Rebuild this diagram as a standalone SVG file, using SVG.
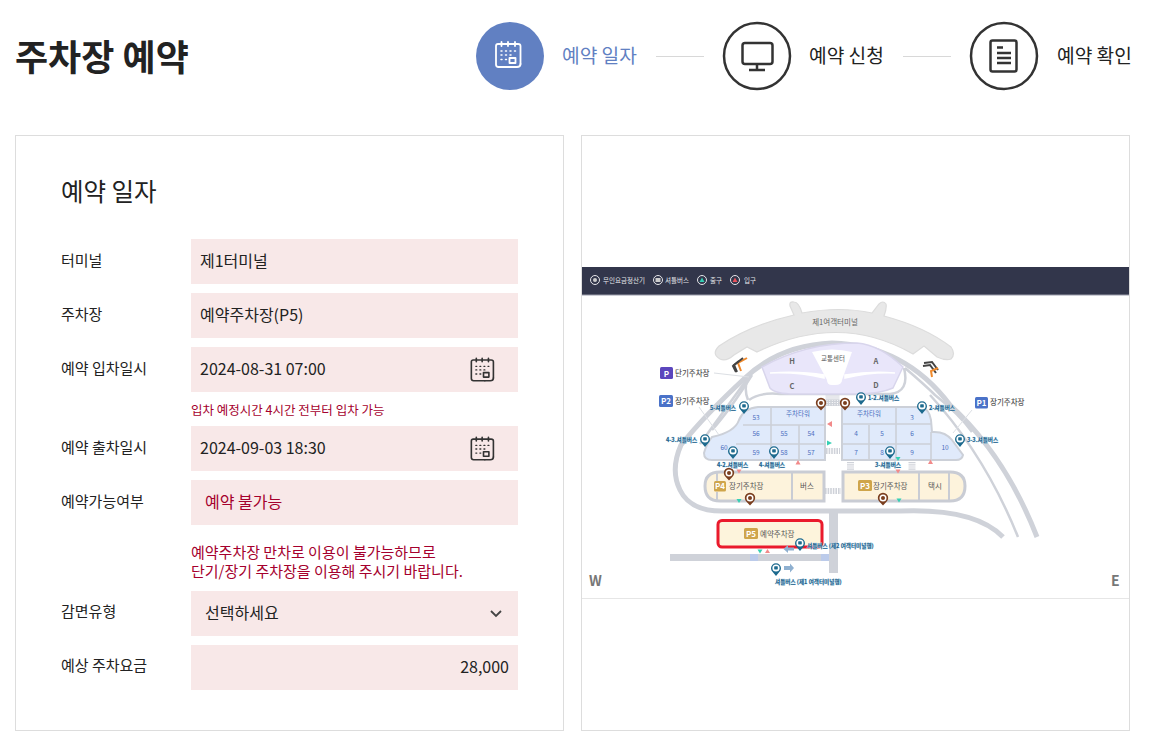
<svg xmlns="http://www.w3.org/2000/svg" width="1163" height="755" viewBox="0 0 1163 755">
<style>
text{font-family:"Noto Sans CJK KR","Noto Sans",sans-serif;fill:#222}
.lab{font-size:15px}
.val{font-size:16px}
.step{font-size:19.2px}
.field{fill:#f8e8e8}
.panel{fill:#fff;stroke:#ddd;stroke-width:1}
.warn{fill:#a5002d}
.road{fill:none;stroke:#cfd2d9;stroke-linecap:butt}
.lot{fill:#e0eafb;stroke:#ccd0d8;stroke-width:2}
.grid{stroke:#ccd0d8;stroke-width:1.6;fill:none}
.bay{fill:#fdf3dc;stroke:#c9ccd4;stroke-width:3}
.num{font-size:6.5px;fill:#4a6fc0;text-anchor:middle}
.gr{font-size:7.5px;fill:#555}
.tag{font-size:8px;font-weight:700;fill:#fff;text-anchor:middle}
.sh{font-size:5.6px;fill:#1a5f8a;stroke:#bcd9ea;stroke-width:.6px;paint-order:stroke;font-weight:700}
.leg{font-size:6.5px;fill:#e6e6ea}
.red{fill:#f28a8a}.teal{fill:#35d0b4}
.hatch{fill:none;stroke:#cfd2d9;stroke-dasharray:1.6 1}
.lead{stroke:#dcdfe4;stroke-width:1;fill:none}
</style>
<defs>
<g id="cal" fill="none" stroke-linecap="round" stroke-linejoin="round">
<path d="M16 26H3.5Q1 26 1 23.5V5Q1 3 3 3H23Q25.500 3 25.500 5V23" stroke-width="1.800"/>
<path d="M25.500 23Q25.500 26 22 26H16M6.500 1V5M13 1V5M20 1V5" stroke-width="1.800"/>
<path d="M6 10h1M10.500 10h1M15 10h1M19.500 10h1M6 14h1M10.500 14h1M6 18.500h1M10.500 18.500h1M15 14h1" stroke-width="1.500"/>
<rect x="14.500" y="17" width="6" height="5" stroke-width="1.800"/>
</g>
<g id="pinB"><path d="M0 5.500L-3.500 1.800A5.200 5.200 0 1 1 3.500 1.800Z" fill="#7a3e1e"/><circle cy="-2" r="3.500" fill="#fff"/><circle cy="-2" r="2" fill="#7a3e1e"/></g>
<g id="pinT"><path d="M0 6L-3.500 1.800A5 5 0 1 1 3.500 1.800Z" fill="#1d6a8e"/><circle cy="-2" r="3.600" fill="#fff"/><rect x="-1.800" y="-3.800" width="3.600" height="3.200" rx=".6" fill="#1d6a8e"/></g>
</defs>
<rect width="1163" height="755" fill="#fff"/>
<text id="title" x="15" y="71" font-size="36" font-weight="700" fill="#222">주차장 예약</text>

<g id="step1">
<circle cx="510" cy="56" r="34" fill="#6180c2"/>
<use href="#cal" x="495" y="41" stroke="#fff"/>
<text class="step" x="562" y="63" style="fill:#6180c2">예약 일자</text>
</g>
<g id="step2">
<circle cx="757" cy="56" r="33" fill="#fff" stroke="#333" stroke-width="2.500"/>
<rect x="742.500" y="43" width="30" height="21" rx="2.500" fill="none" stroke="#333" stroke-width="2.500"/>
<path d="M757 64.500v5M749 70h16" fill="none" stroke="#333" stroke-width="2.500"/>
<text class="step" x="809" y="63">예약 신청</text>
</g>
<g id="step3">
<circle cx="1004" cy="56" r="33" fill="#fff" stroke="#333" stroke-width="2.500"/>
<rect x="990.500" y="40.500" width="26" height="31" rx="2" fill="none" stroke="#333" stroke-width="2.500"/>
<path d="M997 47.500h6M997 53h14M997 58h14M997 63h14" fill="none" stroke="#333" stroke-width="2.500"/>
<text class="step" x="1057" y="63">예약 확인</text>
</g>
<g id="connectors">
<path d="M656 56.500h48M903 56.500h48" stroke="#d8d8d8" stroke-width="1" fill="none"/>
</g>

<g id="form">
<rect class="panel" x="15.500" y="135.500" width="548" height="595"/>
<text x="61" y="201" font-size="24.500">예약 일자</text>
<g id="f-terminal"><text class="lab" x="61" y="266">터미널</text><rect class="field" x="191" y="239" width="327" height="45"/><text class="val" x="200" y="267">제1터미널</text></g>
<g id="f-lot"><text class="lab" x="61" y="320">주차장</text><rect class="field" x="191" y="293" width="327" height="45"/><text class="val" x="200" y="321">예약주차장(P5)</text></g>
<g id="f-in"><text class="lab" x="61" y="374">예약 입차일시</text><rect class="field" x="191" y="347" width="327" height="45"/><text class="val" x="200" y="375">2024-08-31 07:00</text><use href="#cal" x="470.500" y="357" stroke="#333" transform="translate(47 36) scale(.9)"/></g>
<text class="warn" x="191" y="415" font-size="12.500">입차 예정시간 4시간 전부터 입차 가능</text>
<g id="f-out"><text class="lab" x="61" y="453">예약 출차일시</text><rect class="field" x="191" y="426" width="327" height="45"/><text class="val" x="200" y="454">2024-09-03 18:30</text><use href="#cal" x="470.500" y="436" stroke="#333" transform="translate(47 44) scale(.9)"/></g>
<g id="f-avail"><text class="lab" x="61" y="507">예약가능여부</text><rect class="field" x="191" y="480" width="327" height="45"/><text class="val warn" x="205" y="508">예약 불가능</text></g>
<text class="warn" x="191" y="558" font-size="15">예약주차장 만차로 이용이 불가능하므로</text>
<text class="warn" x="191" y="577" font-size="15">단기/장기 주차장을 이용해 주시기 바랍니다.</text>
<g id="f-type"><text class="lab" x="61" y="617">감면유형</text><rect class="field" x="191" y="591" width="327" height="45"/><text class="val" x="205" y="619">선택하세요</text><path d="M491 611l5 5 5-5" fill="none" stroke="#444" stroke-width="1.800"/></g>
<g id="f-fee"><text class="lab" x="61" y="671">예상 주차요금</text><rect class="field" x="191" y="645" width="327" height="45"/><text class="val" x="509" y="673" text-anchor="end">28,000</text></g>
</g>

<g id="map">
<rect class="panel" x="581.500" y="135.500" width="548" height="595"/>
<rect x="582" y="267" width="547" height="28" fill="#32364b"/>
<path d="M582 295h547" stroke="#9a9cab" stroke-width="1"/>
<path d="M582 598.500h547" stroke="#e6e6e6" stroke-width="1"/>
<g id="legend">
<g fill="none" stroke="#e6e6ea"><circle cx="595" cy="280" r="4.500"/><circle cx="658" cy="280" r="4.500"/><circle cx="702" cy="280" r="4.500"/><circle cx="735" cy="280" r="4.500"/></g>
<circle cx="595" cy="280" r="2" fill="#ccc"/><rect x="655.500" y="278" width="5" height="4" fill="#ccc"/>
<path d="M702 277.500l2.500 4.500h-5z" class="teal"/><path d="M735 277.500l2.500 4.500h-5z" fill="#e8505a"/>
<text class="leg" x="603" y="282.500">무인요금정산기</text><text class="leg" x="665" y="282.500">셔틀버스</text><text class="leg" x="710" y="282.500">출구</text><text class="leg" x="744" y="282.500">입구</text>
</g>

<g id="terminal">
<path d="M720 359Q711 354 719 346Q750 325 794 315L790 306Q789 301 794 302Q799 302 802 313Q840 306 872 313L879 304Q883 300 886 304Q887 308 884 316Q925 327 951 347Q956 354 951 359Q946 361 937 357L924 346L913 354Q840 312 757 352L747 347L734 355Q726 362 720 359Z" fill="#e8e8e8" stroke="#dcdcdc" stroke-width="1.200"/>
<text x="835" y="325" font-size="7.500" fill="#666" text-anchor="middle" style="fill:#666">제1여객터미널</text>
</g>

<g id="roads">
<path class="road" stroke-width="5" d="M1037 537Q1005 455 950 405Q905 345 832 343Q780 345 745 378Q705 415 681 445Q670 470 680 490Q690 511 722 511H900Q975 508 1003 537"/>
<path class="road" stroke-width="2.500" d="M1018 537Q985 455 930 395M752 375Q730 410 712 430M700 444L750 375"/>
<path class="road" stroke-width="2.500" d="M749 400Q760 392 780 394H890Q910 392 904 368M905 368Q925 385 935 395Q960 415 972 432M748 400Q742 385 752 372"/>
<path d="M829 511H838V573H829Z" fill="#cfd2d9"/>
<path d="M670 554H829V561H670Z" fill="#cfd2d9"/>
<rect x="750" y="554" width="8" height="7" fill="#bccbea"/><rect x="821" y="554" width="8" height="7" fill="#bccbea"/>
<path class="hatch" stroke="#b8c6ee" stroke-width="6" d="M829.500 564H838"/>
<path class="hatch" stroke-width="6" d="M825 491H841M826 451H840"/>
<path class="hatch" stroke-width="7" style="stroke-dasharray:1.200 1" d="M850.500 462V470M912 462V470M829 392V406M836 392V406"/>
<path d="M826 407h16v58h-16z" fill="#fff"/>
<path class="hatch" stroke-width="6" d="M826 451H840"/>
<path class="hatch" stroke-width="6" d="M825 403H842"/>
</g>

<g id="building">
<path d="M762 367Q805 343 857 343Q880 345 903 367L893 388Q880 394 855 394H795Q775 394 770 388Z" fill="#e9e6fa" stroke="#d8d5ec" stroke-width="1.500"/>
<path d="M812 352Q832 347 852 352L842 380Q842 385 835 385H832Q827 385 827 380Z" fill="#fff"/>
<path d="M770 373Q800 372 824 378V375Q800 371 770 373ZM895 373Q870 372 845 378V375Q870 371 895 373Z" fill="#fff" stroke="#fff" stroke-width="1.500"/>
<text class="gr" x="792" y="364" text-anchor="middle" font-weight="700" style="fill:#666">H</text>
<text class="gr" x="792" y="389" text-anchor="middle" font-weight="700" style="fill:#666">C</text>
<text class="gr" x="876" y="364" text-anchor="middle" font-weight="700" style="fill:#666">A</text>
<text class="gr" x="876" y="388" text-anchor="middle" font-weight="700" style="fill:#666">D</text>
<text x="833" y="361" font-size="6.500" text-anchor="middle" style="fill:#555">교통센터</text>
</g>

<g id="lot-west">
<path class="lot" d="M825 407H758Q744 408 739 420Q735 432 712 437Q706 445 704 453Q704 460 712 460H825Z"/>
<path class="grid" d="M771 407V460M799 425V460M743 425H825M736 444H825"/>
<text class="num" x="756" y="420">53</text><text class="num" x="798" y="416">주차타워</text>
<text class="num" x="756" y="436">56</text><text class="num" x="784" y="436">55</text><text class="num" x="811" y="436">54</text>
<text class="num" x="724" y="450">60</text><text class="num" x="756" y="455">59</text><text class="num" x="784" y="455">58</text><text class="num" x="811" y="455">57</text>
</g>
<g id="lot-east">
<path class="lot" d="M842 407H920Q929 408 931 420L932 432Q945 431 952 440L963 455Q962 460 956 460H842Z"/>
<path class="grid" d="M869 425V460M896 407V460M931 432V460M842 424H932M842 444H931"/>
<text class="num" x="869" y="416">주차타워</text><text class="num" x="912" y="420">3</text>
<text class="num" x="856" y="436">4</text><text class="num" x="882" y="436">5</text><text class="num" x="912" y="436">6</text>
<text class="num" x="856" y="455">7</text><text class="num" x="882" y="455">8</text><text class="num" x="912" y="455">9</text><text class="num" x="945" y="450">10</text>
</g>

<g id="p4">
<path class="bay" d="M720 472H824V501H720Q705 501 705 486Q705 472 720 472Z"/>
<path class="grid" style="stroke:#c9ccd4;stroke-width:2" d="M792 472V501M717 472V481M717 492V501"/>
<rect x="714" y="481" width="12" height="10.500" rx="1.500" fill="#cfa54a"/><text class="tag" x="720" y="489">P4</text>
<text class="gr" x="729" y="488.500">장기주차장</text><text class="gr" x="800" y="488.500">버스</text>
</g>
<g id="p3">
<path class="bay" d="M843 472H950Q965 472 965 486Q965 501 950 501H843Z"/>
<path class="grid" style="stroke:#c9ccd4;stroke-width:2" d="M919 472V501M949 472V501"/>
<rect x="858" y="480" width="14" height="11" rx="1.500" fill="#cfa54a"/><text class="tag" x="865" y="488.500">P3</text>
<text class="gr" x="873" y="488.500">장기주차장</text><text class="gr" x="928" y="488.500">택시</text>
</g>
<g id="p5">
<rect x="718" y="520.500" width="104" height="26.500" rx="4" fill="#fdf4dc" stroke="#ea1a2c" stroke-width="3"/>
<rect x="744" y="528" width="14" height="11" rx="1.500" fill="#cfa54a"/><text class="tag" x="751" y="536.500">P5</text>
<text class="gr" x="760" y="537">예약주차장</text>
</g>

<g id="p-labels">
<path class="lead" d="M714 373L749 377M699 407L719 435M972 410L953 433"/>
<rect x="660" y="367" width="13" height="12" rx="1.500" fill="#5b46bd"/><text class="tag" x="666.500" y="376.500">P</text>
<text class="gr" x="675" y="376" font-weight="500">단기주차장</text>
<rect x="659" y="395" width="14" height="12" rx="1.500" fill="#4a72c8"/><text class="tag" x="666" y="404">P2</text>
<text class="gr" x="675" y="403.500" font-weight="500">장기주차장</text>
<rect x="975" y="397" width="13" height="11.500" rx="1.500" fill="#4a72c8"/><text class="tag" x="981.500" y="406">P1</text>
<text class="gr" x="990" y="405" font-weight="500">장기주차장</text>
</g>

<g id="chevrons" fill="none" stroke-width="2">
<path d="M747 358L738 363L741 371" stroke="#f08a2c"/><path d="M743 358L734 365L737 372" stroke="#444"/><path d="M739 361L733 366L736 372" stroke="#444"/>
<path d="M924 363L932 362L938 370M923 366L930 365L936 373" stroke="#444"/><path d="M938 368L931 371L932 377" stroke="#f08a2c"/>
</g>

<g id="marks">
<path class="red" d="M832 421v6l-5-3zM795.500 464.500l2.500-4.500 2.500 4.500zM736.500 469.500h5l-2.500 4zM765 553l2.500-4 2.500 4zM895.500 469.500h5l-2.500 4zM928 464l2.500-4.500 2.500 4.500z"/>
<path class="teal" d="M827 440.500l5 2.500-5 2.500zM736.500 499h5l-2.500 4zM757.500 549.500h5l-2.500 4zM895.500 457h5l-2.500 4zM896.500 498.500h5l-2.500 4z"/>
<path d="M794 547.500h-6v-2.500l-4.500 4 4.500 4v-2.500h6zM784 566h6v-2.500l4 4.500-4 4.500v-2.500h-6z" fill="#8fb0d0"/>
</g>

<g id="pins">
<use href="#pinB" x="821" y="405"/><use href="#pinB" x="845" y="405"/><use href="#pinB" x="729" y="475"/><use href="#pinB" x="750" y="500"/><use href="#pinB" x="883" y="500"/>
<use href="#pinT" x="861" y="399"/><use href="#pinT" x="744" y="408"/><use href="#pinT" x="922" y="408"/><use href="#pinT" x="705" y="441"/><use href="#pinT" x="733" y="453"/><use href="#pinT" x="774" y="453"/><use href="#pinT" x="890" y="453"/><use href="#pinT" x="960" y="441"/><use href="#pinT" x="800" y="545"/><use href="#pinT" x="776" y="570"/>
<text class="sh" x="868" y="400">1-2.셔틀버스</text><text class="sh" x="710" y="409.500">5-셔틀버스</text><text class="sh" x="929" y="409.500">2-셔틀버스</text>
<text class="sh" x="666" y="442">4-3.셔틀버스</text><text class="sh" x="717" y="466.500">4-2.셔틀버스</text><text class="sh" x="759" y="466.500">4-셔틀버스</text><text class="sh" x="875" y="466.500">3-셔틀버스</text><text class="sh" x="967" y="442">3-3.셔틀버스</text>
<text class="sh" x="807" y="547.500">셔틀버스 (제2 여객터미널행)</text><text class="sh" x="775" y="584">셔틀버스 (제1 여객터미널행)</text>
</g>
<text x="589" y="586" font-size="14" font-weight="700" style="fill:#777">W</text>
<text x="1111" y="586" font-size="14" font-weight="700" style="fill:#777">E</text>
</g>
</svg>
